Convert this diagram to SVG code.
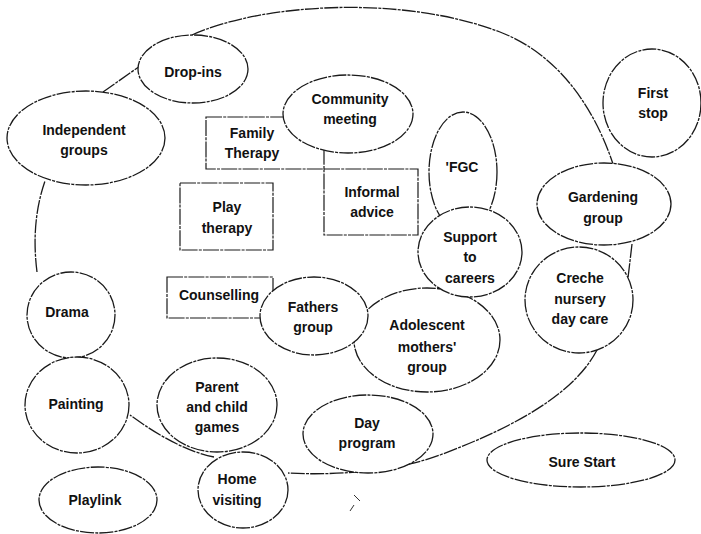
<svg xmlns="http://www.w3.org/2000/svg" width="701" height="534" viewBox="0 0 701 534">
  <style>
    .bg { fill: #ffffff; }
    .shape { fill: #ffffff; stroke: #1a1a1a; stroke-width: 1.3; stroke-dasharray: 14 1.2 3 1.2; }
    .box { fill: #ffffff; stroke: #1a1a1a; stroke-width: 1.2; stroke-dasharray: 16 1.2 3 1.2; }
    .link { fill: none; stroke: #1a1a1a; stroke-width: 1.3; stroke-dasharray: 14 1.2 3 1.2; }
    .mark { fill: none; stroke: #333; stroke-width: 1; }
    text { font-family: "Liberation Sans", Arial, sans-serif; font-size: 14px; font-weight: bold; fill: #111; text-anchor: middle; }
  </style>

  <rect class="bg" x="0" y="0" width="701" height="534"/>

  <!-- connectors: the chain of lines forming the large enclosing loop -->
  <g id="connectors">
    <path class="link" d="M192,35 C260,4 400,-6 500,32 C560,55 595,110 613,164"/>
    <path class="link" d="M632,244 L628,278"/>
    <path class="link" d="M597,350 C575,392 520,425 440,455 C400,470 340,476 288,473"/>
    <path class="link" d="M214,457 Q178,450 130,415"/>
    <path class="link" d="M37,272 C33,240 35,210 45,181"/>
    <path class="link" d="M103,92 L140,66"/>
    <path class="mark" d="M354,495 L360,501 M354,505 L350,511"/>
  </g>

  <!-- rectangular services (drawn first so overlapping ellipses sit on top) -->
  <g id="family-therapy">
    <rect class="box" x="206" y="117" width="118" height="52"/>
    <text x="252" y="138">Family</text>
    <text x="252" y="158">Therapy</text>
  </g>
  <g id="informal-advice">
    <rect class="box" x="324" y="169" width="94" height="66"/>
    <text x="372" y="197">Informal</text>
    <text x="372" y="217">advice</text>
  </g>
  <g id="play-therapy">
    <rect class="box" x="180" y="183" width="93" height="67"/>
    <text x="227" y="212">Play</text>
    <text x="227" y="233">therapy</text>
  </g>
  <g id="counselling">
    <rect class="box" x="167" y="277" width="106" height="41"/>
    <text x="219" y="300">Counselling</text>
  </g>

  <!-- circular services -->
  <g id="drop-ins">
    <ellipse class="shape" cx="193" cy="69" rx="55" ry="34"/>
    <text x="193" y="77">Drop-ins</text>
  </g>
  <g id="independent-groups">
    <ellipse class="shape" cx="86" cy="138" rx="79" ry="47"/>
    <text x="84" y="135">Independent</text>
    <text x="84" y="155">groups</text>
  </g>
  <g id="community-meeting">
    <ellipse class="shape" cx="348" cy="114" rx="65" ry="39"/>
    <text x="350" y="104">Community</text>
    <text x="350" y="124">meeting</text>
  </g>
  <g id="fgc">
    <ellipse class="shape" cx="463" cy="172" rx="34" ry="60"/>
    <text x="462" y="172">'FGC</text>
  </g>
  <g id="first-stop">
    <ellipse class="shape" cx="652" cy="103" rx="49" ry="54"/>
    <text x="653" y="98">First</text>
    <text x="653" y="118">stop</text>
  </g>
  <g id="gardening-group">
    <ellipse class="shape" cx="604" cy="204" rx="67" ry="41"/>
    <text x="603" y="202">Gardening</text>
    <text x="603" y="223">group</text>
  </g>
  <g id="creche">
    <ellipse class="shape" cx="579" cy="300" rx="54" ry="53"/>
    <text x="580" y="283">Creche</text>
    <text x="580" y="304">nursery</text>
    <text x="580" y="324">day care</text>
  </g>
  <g id="adolescent-mothers-group">
    <ellipse class="shape" cx="427" cy="340" rx="73" ry="52"/>
    <text x="427" y="330">Adolescent</text>
    <text x="427" y="352">mothers'</text>
    <text x="427" y="372">group</text>
  </g>
  <g id="support-to-careers">
    <ellipse class="shape" cx="470" cy="252" rx="52" ry="45"/>
    <text x="470" y="242">Support</text>
    <text x="470" y="262">to</text>
    <text x="470" y="283">careers</text>
  </g>
  <g id="fathers-group">
    <ellipse class="shape" cx="314" cy="316" rx="54" ry="39"/>
    <text x="313" y="312">Fathers</text>
    <text x="313" y="332">group</text>
  </g>
  <g id="drama">
    <ellipse class="shape" cx="71" cy="315" rx="44" ry="43"/>
    <text x="67" y="317">Drama</text>
  </g>
  <g id="painting">
    <ellipse class="shape" cx="77" cy="405" rx="52" ry="48"/>
    <text x="76" y="409">Painting</text>
  </g>
  <g id="parent-and-child-games">
    <ellipse class="shape" cx="217" cy="405" rx="60" ry="47"/>
    <text x="217" y="392">Parent</text>
    <text x="217" y="412">and child</text>
    <text x="217" y="432">games</text>
  </g>
  <g id="day-program">
    <ellipse class="shape" cx="368" cy="434" rx="65" ry="39"/>
    <text x="367" y="428">Day</text>
    <text x="367" y="448">program</text>
  </g>
  <g id="home-visiting">
    <ellipse class="shape" cx="243" cy="490" rx="45" ry="38"/>
    <text x="237" y="484">Home</text>
    <text x="237" y="505">visiting</text>
  </g>
  <g id="playlink">
    <ellipse class="shape" cx="98" cy="500" rx="59" ry="33"/>
    <text x="95" y="505">Playlink</text>
  </g>
  <g id="sure-start">
    <ellipse class="shape" cx="581" cy="460" rx="94" ry="27"/>
    <text x="582" y="467">Sure Start</text>
  </g>
</svg>
